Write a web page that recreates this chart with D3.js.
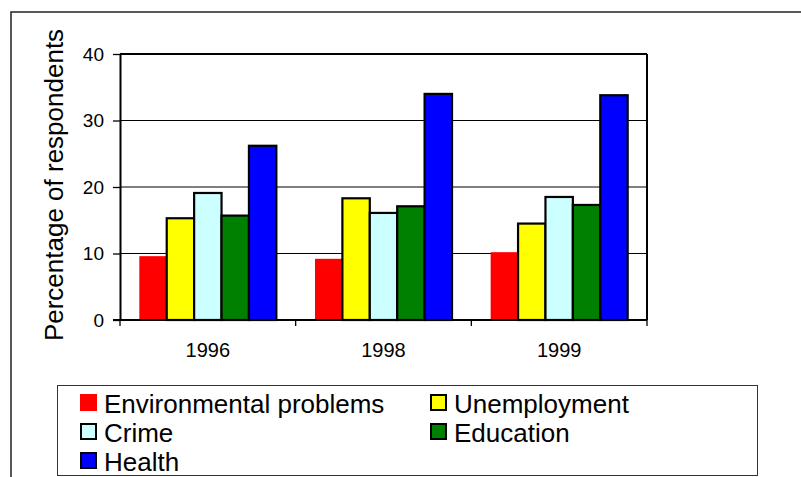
<!DOCTYPE html>
<html>
<head>
<meta charset="utf-8">
<script src="https://cdn.jsdelivr.net/npm/d3@7"></script>
<style>
  html, body { margin: 0; padding: 0; background: #fff; }
  svg { display: block; font-family: "Liberation Sans", Arial, sans-serif; }
</style>
</head>
<body>
<svg id="chart" width="801" height="477"></svg>
<script>
// ---- data ----
const years = ["1996", "1998", "1999"];
const seriesNames = ["Environmental problems", "Unemployment", "Crime", "Education", "Health"];
const seriesColors = ["#FF0000", "#FFFF00", "#CCFFFF", "#008000", "#0000FF"];
const environmental = [9.6, 9.2, 10.2];
const unemployment = [15.3, 18.3, 14.5];
const crime = [19.1, 16.1, 18.5];
const education = [15.7, 17.1, 17.3];
const health = [26.2, 34.0, 33.8];
const yTicks = [0, 10, 20, 30, 40];

const seriesValues = [environmental, unemployment, crime, education, health];

const svg = d3.select("#chart");

// outer frame
svg.append("rect")
  .attr("x", 11).attr("y", 12)
  .attr("width", 820).attr("height", 500)
  .attr("fill", "none").attr("stroke", "#222").attr("stroke-width", 1.5);

const plot = { left: 120, right: 647, top: 54, bottom: 320 };

const x0 = d3.scaleBand().domain(years)
  .range([plot.left, plot.right])
  .paddingInner(0.22).paddingOuter(0.11);
const x1 = d3.scaleBand().domain(seriesNames)
  .range([0, x0.bandwidth()]).padding(0);
const y = d3.scaleLinear().domain([0, 40]).range([plot.bottom, plot.top]);

// gridlines
svg.append("g")
  .selectAll("line")
  .data(yTicks.filter(t => t > 0 && t < 40))
  .join("line")
  .attr("x1", plot.left).attr("x2", plot.right)
  .attr("y1", d => y(d)).attr("y2", d => y(d))
  .attr("stroke", "#000").attr("stroke-width", 1);

// bars
const groups = svg.append("g")
  .selectAll("g")
  .data(years)
  .join("g")
  .attr("transform", d => `translate(${x0(d)},0)`);

groups.selectAll("rect")
  .data((yr, i) => seriesNames.map((s, k) => ({ s, k, v: seriesValues[k][i] })))
  .join("rect")
  .attr("x", d => x1(d.s))
  .attr("width", x1.bandwidth())
  .attr("y", d => y(d.v))
  .attr("height", d => y(0) - y(d.v))
  .attr("fill", d => seriesColors[d.k])
  .attr("stroke", d => d.k === 0 ? "none" : "#000")
  .attr("stroke-width", 2.2);

// plot box top & right
svg.append("line")
  .attr("x1", plot.left).attr("x2", plot.right)
  .attr("y1", plot.top).attr("y2", plot.top)
  .attr("stroke", "#000").attr("stroke-width", 2);
svg.append("line")
  .attr("x1", plot.right).attr("x2", plot.right)
  .attr("y1", plot.top).attr("y2", plot.bottom)
  .attr("stroke", "#000").attr("stroke-width", 2);

// y axis
const yAxis = d3.axisLeft(y).tickValues(yTicks).tickSize(7).tickPadding(9).tickSizeOuter(0);
const gy = svg.append("g").attr("transform", `translate(${plot.left},0)`).call(yAxis);
gy.select(".domain").attr("stroke", "#000").attr("stroke-width", 2);
gy.selectAll(".tick line").attr("stroke", "#000").attr("stroke-width", 1.3);
gy.selectAll(".tick text")
  .attr("font-size", 19).attr("fill", "#000")
  .attr("font-family", "'Liberation Sans', Arial, sans-serif");

// x axis
const gx = svg.append("g").attr("transform", `translate(0,${plot.bottom})`);
gx.append("line")
  .attr("x1", plot.left - 7).attr("x2", plot.right)
  .attr("y1", 0).attr("y2", 0)
  .attr("stroke", "#000").attr("stroke-width", 2);
const boundaries = [plot.left].concat(years.map(yr => x0(yr) + x0.bandwidth() + x0.step() * x0.paddingInner() / 2));
boundaries[boundaries.length - 1] = plot.right;
gx.selectAll("line.tk")
  .data(boundaries)
  .join("line")
  .attr("class", "tk")
  .attr("x1", d => d).attr("x2", d => d)
  .attr("y1", 0).attr("y2", 6)
  .attr("stroke", "#000").attr("stroke-width", 1.3);
gx.selectAll("text")
  .data(years)
  .join("text")
  .attr("x", d => x0(d) + x0.bandwidth() / 2)
  .attr("y", 37)
  .attr("text-anchor", "middle")
  .attr("font-size", 20)
  .attr("fill", "#000")
  .text(d => d);

// y title
svg.append("text")
  .attr("transform", "translate(63,185) rotate(-90)")
  .attr("text-anchor", "middle")
  .attr("font-size", 26)
  .attr("fill", "#000")
  .text("Percentage of respondents");

// legend
svg.append("rect")
  .attr("x", 57.5).attr("y", 385.5)
  .attr("width", 700).attr("height", 90)
  .attr("fill", "#fff").attr("stroke", "#333").attr("stroke-width", 1);

const legendPos = [
  { x: 80, y: 394 }, { x: 430, y: 394 },
  { x: 80, y: 423 }, { x: 430, y: 423 },
  { x: 80, y: 452 }
];
const lg = svg.append("g")
  .selectAll("g")
  .data(seriesNames)
  .join("g")
  .attr("transform", (d, i) => `translate(${legendPos[i].x},${legendPos[i].y})`);
lg.append("rect")
  .attr("x", (d, i) => i === 0 ? 0 : 1)
  .attr("y", (d, i) => i === 0 ? 0 : 1)
  .attr("width", (d, i) => i === 0 ? 17 : 15)
  .attr("height", (d, i) => i === 0 ? 17 : 15)
  .attr("fill", (d, i) => seriesColors[i])
  .attr("stroke", (d, i) => i === 0 ? "none" : "#000")
  .attr("stroke-width", 2);
lg.append("text")
  .attr("x", 24)
  .attr("y", 19)
  .attr("font-size", 26)
  .attr("fill", "#000")
  .text(d => d);
</script>
</body>
</html>
